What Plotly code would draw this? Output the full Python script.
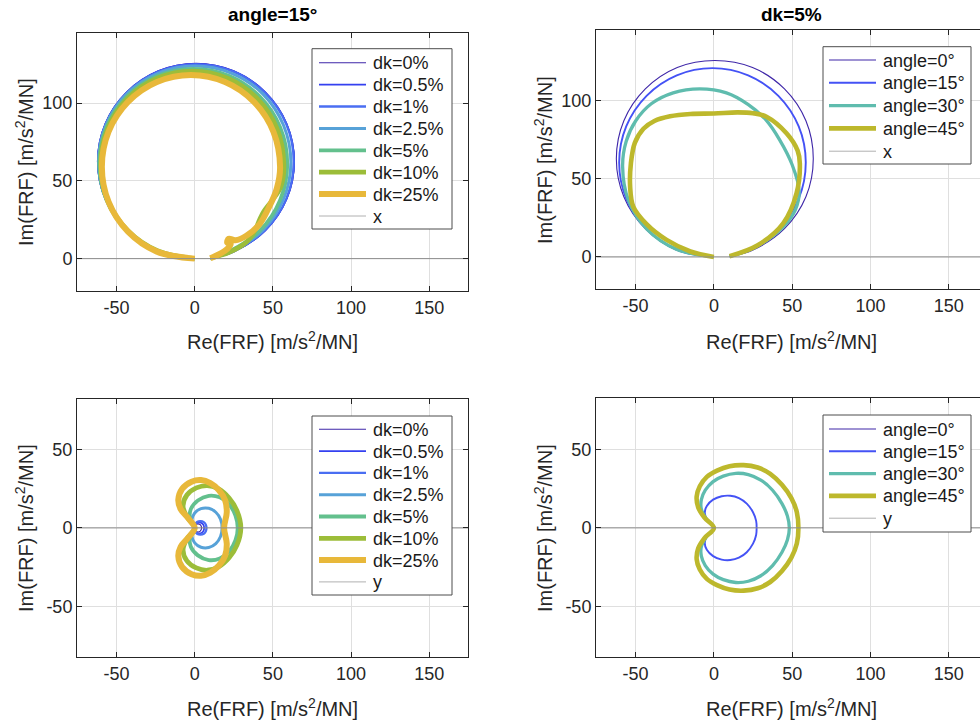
import plotly.graph_objects as go

# ---------------- data ----------------
# Top-left: angle=15°, x-direction, dk variations
tl_dk0_x = [0, -23.3, -43.7, -57.4, -62.2, -57.4, -43.7, -23.3, 0.8, 24.9, 45.3, 59.0, 63.8, 59.0, 45.3, 24.9, 10]
tl_dk0_y = [0, 4.3, 18.0, 38.4, 62.5, 86.6, 107.0, 120.7, 125.5, 120.7, 107.0, 86.6, 62.5, 38.4, 18.0, 4.3, 0.2]
tl_dk05_x = [0, -23.2, -43.5, -57.2, -62.0, -57.2, -43.5, -23.2, 0.8, 24.8, 45.1, 58.8, 63.6, 58.8, 45.1, 24.8, 10]
tl_dk05_y = [0, 4.4, 18.1, 38.5, 62.5, 86.5, 106.9, 120.5, 125.2, 120.5, 106.9, 86.5, 62.5, 38.5, 18.1, 4.4, 0.2]
tl_dk1_x = [0, -23.1, -43.3, -57.0, -61.7, -57.0, -43.3, -23.1, 0.8, 24.7, 44.9, 58.6, 63.3, 58.6, 44.9, 24.7, 10]
tl_dk1_y = [0, 4.5, 18.2, 38.6, 62.4, 86.3, 106.6, 120.2, 124.9, 120.2, 106.6, 86.3, 62.4, 38.6, 18.2, 4.5, 0.2]
tl_dk25_x = [0, -23.6, -43.5, -56.8, -61.5, -56.8, -43.5, -23.6, 0, 23.6, 43.5, 56.8, 61.5, 56.8, 43.5, 23.6, 10]
tl_dk25_y = [0, 4.7, 18.1, 38.3, 62, 85.7, 105.9, 119.1, 123.8, 119.1, 105.9, 85.7, 62, 38.3, 18.1, 4.7, 0.3]
tl_dk5_x = [0, -23.9, -43.4, -56.4, -61.0, -56.4, -43.4, -23.9, -0.9, 22.1, 41.6, 54.6, 59.2, 54.6, 41.6, 22.1, 10]
tl_dk5_y = [0, 4.6, 17.9, 37.6, 61, 84.4, 104.1, 117.4, 122, 117.4, 104.1, 84.4, 61, 37.6, 17.9, 4.6, 0.4]
tl_dk10_x = [0, -23.9, -42.9, -55.6, -60, -55.6, -42.9, -23.9, -1.5, 20.9, 39.9, 52.6, 57, 55, 50, 44, 41.5, 38.5, 33, 22, 10]
tl_dk10_y = [0, 5.1, 18.1, 37.5, 60.5, 83.5, 102.9, 115.9, 120.5, 115.9, 102.9, 83.5, 60.5, 46, 38, 30, 25, 18, 10.5, 4, 0.3]
tl_dk250_x = [0, -24.2, -42.7, -55.1, -59.4, -55.1, -42.7, -24.2, -2.4, 19.4, 37.9, 50.3, 54.6, 52.5, 47.5, 41.5, 33, 26, 21.8, 20.8, 23, 21, 16, 10]
tl_dk250_y = [0, 4.5, 17.3, 36.4, 59, 81.6, 100.7, 113.5, 118, 113.5, 100.7, 81.6, 59, 45, 33, 22.2, 14.7, 11.8, 12.8, 10.2, 9.4, 6.5, 3, 0.2]

# Top-right: dk=5%, x-direction, angle variations
tr_a0_x = [0, -23.4, -43.8, -57.5, -62.3, -57.5, -43.8, -23.4, 0.6, 24.7, 45.1, 58.8, 63.5, 58.8, 45.1, 24.7, 10]
tr_a0_y = [0, 4.3, 18.1, 38.5, 62.8, 87.1, 107.5, 121.2, 125.7, 121.2, 107.5, 87.1, 62.8, 38.5, 18.1, 4.3, 0.2]
tr_a15_x = [0, -23.7, -43.0, -56.0, -60.5, -56.0, -43.0, -23.7, -0.9, 21.9, 41.2, 54.2, 58.7, 54.2, 41.2, 21.9, 10]
tr_a15_y = [0, 4.6, 17.7, 37.3, 60.4, 83.5, 103.1, 116.2, 120.8, 116.2, 103.1, 83.5, 60.4, 37.3, 17.7, 4.6, 0.4]
tr_a30_x = [0, -24, -43, -54.5, -58.3, -56, -50, -40, -26, -9, 8, 22, 33, 42.1, 50, 54.5, 52, 44, 26, 10]
tr_a30_y = [0, 5, 18, 36, 58, 74, 87, 98, 105, 107.5, 105, 97.5, 88, 74.8, 59, 42, 30, 19, 6, 0.4]
tr_a45_x = [0, -15, -30.2, -43, -51.5, -53.5, -53, -50.5, -45, -38, -28, -15, 0, 15, 25, 33.6, 46.4, 53.5, 54.9, 52.8, 44.3, 28, 10]
tr_a45_y = [0, 3.5, 10.9, 21, 32.2, 45, 60, 73, 82, 87, 90, 91.5, 91.8, 92.5, 92, 89.7, 79.1, 68, 59.9, 40.7, 21.5, 7.5, 0.5]

# Bottom-left: angle=15°, y-direction, dk variations
bl_dk0_x = [0, 0.2, 1.0, 2.2, 3.4, 4.1, 4.4, 4.1, 3.4, 2.2, 1.0, 0.2, 0]
bl_dk0_y = [0, 1.4, 2.3, 2.6, 2.2, 1.2, 0, -1.2, -2.2, -2.6, -2.3, -1.4, 0]
bl_dk05_x = [0, 0.2, 1.4, 3.0, 4.6, 5.7, 6.0, 5.7, 4.6, 3.0, 1.4, 0.2, 0]
bl_dk05_y = [0, 2.0, 3.2, 3.5, 3.0, 1.7, 0, -1.7, -3.0, -3.5, -3.2, -2.0, 0]
bl_dk1_x = [0, 0.3, 1.7, 3.7, 5.8, 7.1, 7.5, 7.1, 5.8, 3.7, 1.7, 0.3, 0]
bl_dk1_y = [0, 2.5, 3.9, 4.3, 3.7, 2.1, 0, -2.1, -3.7, -4.3, -3.9, -2.5, 0]
bl_dk25_x = [0, -1.8, 0, 4, 9, 13.5, 16.5, 17.5, 16.5, 13.5, 9, 4, 0, -1.8, 0]
bl_dk25_y = [0, 5, 9.5, 12.3, 12.5, 10, 5.5, 0, -5.5, -10, -12.5, -12.3, -9.5, -5, 0]
bl_dk5_x = [0, -3, -2.5, 2, 9, 16, 22, 26, 27.5, 26, 22, 16, 9, 2, -2.5, -3, 0]
bl_dk5_y = [0, 6, 12, 17.5, 20.5, 19.5, 15, 8, 0, -8, -15, -19.5, -20.5, -17.5, -12, -6, 0]
bl_dk10_x = [0, -5, -7.5, -5, 1, 8, 15, 22, 27, 29.5, 27, 22, 15, 8, 1, -5, -7.5, -5, 0]
bl_dk10_y = [0, 7, 14, 21, 25.5, 27, 25, 19, 11, 0, -11, -19, -25, -27, -25.5, -21, -14, -7, 0]
bl_dk250_x = [0, -4, -9, -10.5, -8, -2, 4, 10, 15.5, 19.5, 20.5, 18.8, 20.5, 19.5, 15.5, 10, 4, -2, -8, -10.5, -9, -4, 0]
bl_dk250_y = [0, 6, 12, 18, 25, 29.5, 30.5, 28.5, 24, 17.5, 10, 0, -10, -17.5, -24, -28.5, -30.5, -29.5, -25, -18, -12, -6, 0]

# Bottom-right: dk=5%, y-direction, angle variations
br_a0_x = [0, 0]
br_a0_y = [0, 0]
br_a15_x = [0, -4, -5.8, -4.5, -0.5, 5, 10.5, 16, 21, 25, 27, 27.3, 27, 25, 21, 16, 10.5, 5, -0.5, -4.5, -5.8, -4, 0]
br_a15_y = [0, 4.5, 9.5, 14, 18, 20.2, 20.5, 19, 15.5, 10, 4.5, 0, -4.5, -10, -15.5, -19, -20.5, -20.2, -18, -14, -9.5, -4.5, 0]
br_a30_x = [0, -5, -8, -8, -5.5, -0.5, 6, 14, 22, 30, 37.5, 43.5, 47, 48.2, 47, 43.5, 37.5, 30, 22, 14, 6, -0.5, -5.5, -8, -8, -5, 0]
br_a30_y = [0, 6, 12, 18, 24, 29.5, 33, 34.8, 34, 30.5, 24, 15.5, 7.5, 0, -7.5, -15.5, -24, -30.5, -34, -34.8, -33, -29.5, -24, -18, -12, -6, 0]
br_a45_x = [0, -6, -10, -11, -9, -4.5, 2, 10, 19, 28, 36, 43.5, 49.5, 53, 54, 53, 49.5, 43.5, 36, 28, 19, 10, 2, -4.5, -9, -11, -10, -6, 0]
br_a45_y = [0, 6.5, 13, 20, 26.5, 32.5, 36.5, 39.3, 40, 38.5, 34.5, 27.5, 19, 10, 0, -10, -19, -27.5, -34.5, -38.5, -40, -39.3, -36.5, -32.5, -26.5, -20, -13, -6.5, 0]

# reference (zero) line
ref_x = [-75, 175]
ref_y = [0, 0]

dk_labels = ["dk=0%", "dk=0.5%", "dk=1%", "dk=2.5%", "dk=5%", "dk=10%", "dk=25%"]
angle_labels = ["angle=0°", "angle=15°", "angle=30°", "angle=45°"]
x_ticks = [-50, 0, 50, 100, 150]
x_ticktext = ["-50", "0", "50", "100", "150"]
y_ticks_top = [0, 50, 100]
y_ticktext_top = ["0", "50", "100"]
y_ticks_bottom = [-50, 0, 50]
y_ticktext_bottom = ["-50", "0", "50"]

# ---------------- style ----------------
dk_colors = ["#3e26a8", "#3440f0", "#4a6ef2", "#57a2d8", "#63c08d", "#9cbd39", "#e8b83a"]
dk_widths = [1.1, 1.7, 2.3, 3.0, 3.8, 4.8, 6.0]
ang_colors = ["#3e26a8", "#4452f5", "#5fbcae", "#bdb82c"]
ang_widths = [1.1, 1.9, 3.3, 4.6]
REF_COLOR = "#8c8c8c"
FONT = "Liberation Sans, Arial, Helvetica, sans-serif"
AX = "#262626"

fig = go.Figure()

def add(xs, ys, name, color, width, xa, ya):
    fig.add_trace(go.Scatter(x=xs, y=ys, mode="lines", name=name, showlegend=False,
                             line=dict(color=color, width=width, shape="spline", smoothing=1.0),
                             xaxis=xa, yaxis=ya, hoverinfo="skip"))

tl = [(tl_dk0_x, tl_dk0_y), (tl_dk05_x, tl_dk05_y), (tl_dk1_x, tl_dk1_y), (tl_dk25_x, tl_dk25_y),
      (tl_dk5_x, tl_dk5_y), (tl_dk10_x, tl_dk10_y), (tl_dk250_x, tl_dk250_y)]
for (xs, ys), n, c, w in zip(tl, dk_labels, dk_colors, dk_widths):
    add(xs, ys, n, c, w, "x", "y")
add(ref_x, ref_y, "x", REF_COLOR, 1, "x", "y")

tr = [(tr_a0_x, tr_a0_y), (tr_a15_x, tr_a15_y), (tr_a30_x, tr_a30_y), (tr_a45_x, tr_a45_y)]
for (xs, ys), n, c, w in zip(tr, angle_labels, ang_colors, ang_widths):
    add(xs, ys, n, c, w, "x2", "y2")
add(ref_x, ref_y, "x", REF_COLOR, 1, "x2", "y2")

bl = [(bl_dk0_x, bl_dk0_y), (bl_dk05_x, bl_dk05_y), (bl_dk1_x, bl_dk1_y), (bl_dk25_x, bl_dk25_y),
      (bl_dk5_x, bl_dk5_y), (bl_dk10_x, bl_dk10_y), (bl_dk250_x, bl_dk250_y)]
for (xs, ys), n, c, w in zip(bl, dk_labels, dk_colors, dk_widths):
    add(xs, ys, n, c, w, "x3", "y3")
add(ref_x, ref_y, "y", REF_COLOR, 1, "x3", "y3")

br = [(br_a0_x, br_a0_y), (br_a15_x, br_a15_y), (br_a30_x, br_a30_y), (br_a45_x, br_a45_y)]
for (xs, ys), n, c, w in zip(br, angle_labels, ang_colors, ang_widths):
    add(xs, ys, n, c, w, "x4", "y4")
add(ref_x, ref_y, "y", REF_COLOR, 1, "x4", "y4")

W, H = 980, 723
def px(v):
    return v / W
def py(v):
    return 1 - v / H

def xax(dom, rng, anchor):
    return dict(domain=dom, range=rng, anchor=anchor, tickvals=x_ticks, ticktext=x_ticktext,
                showgrid=True, gridcolor="#dfdfdf", gridwidth=1, zeroline=False,
                showline=True, linecolor=AX, linewidth=1, mirror="ticks",
                ticks="inside", ticklen=5, tickcolor=AX,
                tickfont=dict(family=FONT, size=18, color=AX))

def yax(dom, rng, anchor, tv, tt, right_cut=False):
    return dict(domain=dom, range=rng, anchor=anchor, tickvals=tv, ticktext=tt,
                showgrid=True, gridcolor="#dfdfdf", gridwidth=1, zeroline=False,
                showline=True, linecolor=AX, linewidth=1,
                mirror=False if right_cut else "ticks",
                ticks="inside", ticklen=5, tickcolor=AX,
                tickfont=dict(family=FONT, size=18, color=AX))

LX = [px(77), px(468)]
RX = [px(596), 1.0]

fig.update_layout(
    width=W, height=H, margin=dict(l=0, r=0, t=0, b=0),
    paper_bgcolor="white", plot_bgcolor="white", showlegend=False,
    font=dict(family=FONT, color=AX),
    xaxis=xax(LX, [-75.3, 174.8], "y"),
    yaxis=yax([py(291), py(33)], [-20.8, 145], "x", y_ticks_top, y_ticktext_top),
    xaxis2=xax(RX, [-75.3, 170], "y2"),
    yaxis2=yax([py(289), py(30)], [-20.5, 145.2], "x2", y_ticks_top, y_ticktext_top, right_cut=True),
    xaxis3=xax(LX, [-75.3, 174.8], "y3"),
    yaxis3=yax([py(657), py(399)], [-82.3, 82.2], "x3", y_ticks_bottom, y_ticktext_bottom),
    xaxis4=xax(RX, [-75.3, 170], "y4"),
    yaxis4=yax([py(657), py(398)], [-82.3, 82.8], "x4", y_ticks_bottom, y_ticktext_bottom, right_cut=True),
)

ann = []
shapes = []
def text(x, y, s, size=20, bold=False, angle=0, anchor="center", color=None):
    ann.append(dict(x=px(x), y=py(y), xref="paper", yref="paper", text=("<b>%s</b>" % s) if bold else s,
                    showarrow=False, xanchor=anchor, yanchor="middle", textangle=angle,
                    font=dict(family=FONT, size=size, color=color or ("black" if bold else AX))))

# legend boxes drawn as shapes + text
def legend_box(x0, y0, x1, y1, entries, first_y, step, line_x0, line_x1, text_x):
    shapes.append(dict(type="rect", xref="paper", yref="paper", x0=px(x0), x1=px(x1),
                       y0=py(y1), y1=py(y0), fillcolor="white", line=dict(color="#4d4d4d", width=1),
                       layer="above"))
    for i, (label, color, width) in enumerate(entries):
        yc = first_y + i * step
        shapes.append(dict(type="line", xref="paper", yref="paper", x0=px(line_x0), x1=px(line_x1),
                           y0=py(yc), y1=py(yc), line=dict(color=color, width=width), layer="above"))
        text(text_x, yc + 0.5, label, size=18, anchor="left", color="#1a1a1a")

dk_entries = list(zip(dk_labels, dk_colors, dk_widths))
ang_entries = list(zip(angle_labels, ang_colors, ang_widths))
legend_box(312, 48.7, 452, 229, dk_entries + [("x", "#b0b0b0", 1)], 62.7, 21.9, 319, 366, 371)
legend_box(823, 46.7, 971, 164, ang_entries + [("x", "#b0b0b0", 1)], 60, 22.8, 829, 876, 881)
legend_box(312, 416, 452, 595, dk_entries + [("y", "#b0b0b0", 1)], 429.3, 21.8, 319, 366, 371)
legend_box(823, 415, 971, 532, ang_entries + [("y", "#b0b0b0", 1)], 429, 22.3, 829, 876, 881)

text(272, 14, "angle=15°", size=19, bold=True)
text(791, 14, "dk=5%", size=19, bold=True)
xt = "Re(FRF) [m/s<sup>2</sup>/MN]"
yt = "Im(FRF) [m/s<sup>2</sup>/MN]"
text(272, 340, xt)
text(791, 340, xt)
text(272, 707, xt)
text(791, 707, xt)
text(24, 162, yt, angle=-90)
text(543, 160, yt, angle=-90)
text(24, 528, yt, angle=-90)
text(543, 528, yt, angle=-90)
fig.update_layout(annotations=ann, shapes=shapes)

fig.write_html("out.html")
